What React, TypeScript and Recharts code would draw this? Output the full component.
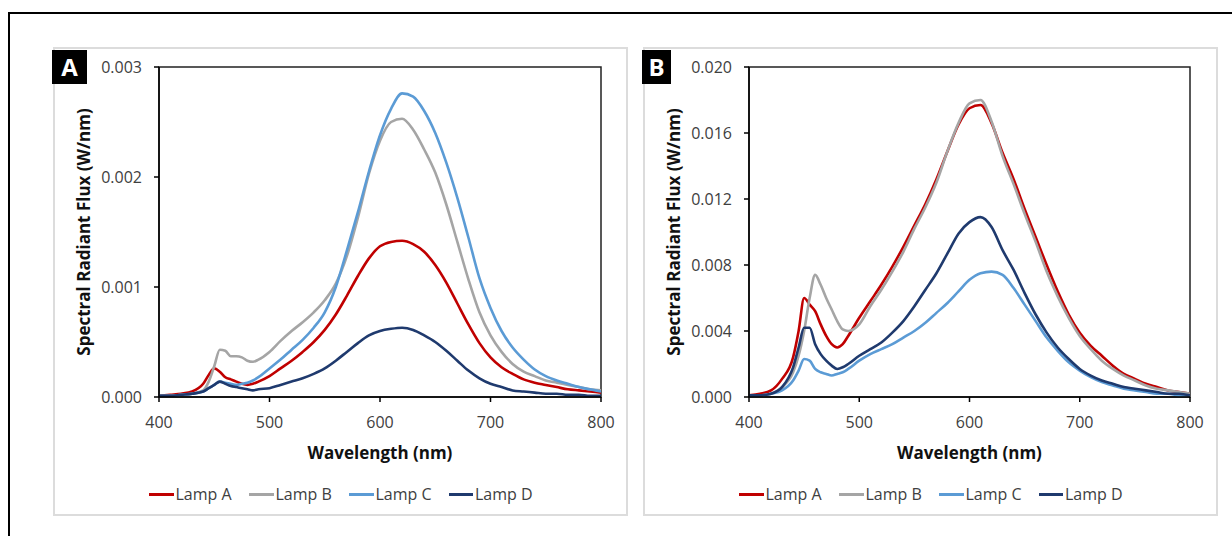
import React from 'react';
import { LineChart, Line, XAxis, YAxis, Legend, Label, ReferenceArea } from 'recharts';

// ---------- data ----------
const wavelengths = [
  400, 410, 420, 430, 440, 445, 450, 455, 460, 465, 470, 475, 480, 485, 490,
  500, 510, 520, 530, 540, 550, 560, 570, 580, 590, 600, 610, 620, 630, 640,
  650, 660, 670, 680, 690, 700, 710, 720, 730, 740, 750, 760, 770, 780, 790, 800,
];

// Panel A (W/nm)
const aLampA = [
  0.00001, 0.00002, 0.00003, 0.00005, 0.00012, 0.0002, 0.00026, 0.00023, 0.00018, 0.00016, 0.00014, 0.00012, 0.00011, 0.00012, 0.00014,
  0.00019, 0.00026, 0.00033, 0.00041, 0.0005, 0.00061, 0.00075, 0.00092, 0.0011, 0.00126, 0.00137, 0.00141, 0.00142, 0.00139, 0.00132,
  0.0012, 0.00104, 0.00085, 0.00066, 0.00049, 0.00036, 0.00027, 0.00021, 0.00016, 0.00013, 0.00011, 0.00009, 0.00007, 0.00006, 0.00005, 0.00004,
];
const aLampB = [
  0.00001, 0.00001, 0.00002, 0.00003, 0.00006, 0.00014, 0.00028, 0.00043, 0.00042, 0.00037, 0.00037, 0.00036, 0.00033, 0.00032, 0.00034,
  0.00041, 0.00051, 0.0006, 0.00068, 0.00077, 0.00088, 0.00103, 0.00128, 0.00163, 0.00203, 0.00233, 0.0025, 0.00253, 0.00243, 0.00225,
  0.00204, 0.00175, 0.00141, 0.00107, 0.00077, 0.00056, 0.00041, 0.0003, 0.00023, 0.00019, 0.00015, 0.00013, 0.00011, 0.00009, 0.00007, 0.00006,
];
const aLampC = [
  0.00001, 0.00001, 0.00002, 0.00003, 0.00005, 0.00008, 0.00011, 0.00014, 0.00013, 0.00012, 0.00011, 0.00012, 0.00013, 0.00015, 0.00018,
  0.00026, 0.00034, 0.00043, 0.00052, 0.00063, 0.00077, 0.001, 0.00133, 0.00168, 0.00205, 0.00238, 0.00262, 0.00276, 0.00273, 0.0026,
  0.0024, 0.00213, 0.00181, 0.00145, 0.00108, 0.00081, 0.0006, 0.00045, 0.00034, 0.00025, 0.00019, 0.00015, 0.00012, 0.00009, 0.00007, 0.00005,
];
const aLampD = [
  0.00001, 0.00001, 0.00002, 0.00003, 0.00005, 0.00008, 0.00011, 0.00014, 0.00012, 0.0001, 0.00009, 0.00008, 0.00007, 0.00006, 0.00007,
  0.00008, 0.00011, 0.00014, 0.00017, 0.00021, 0.00026, 0.00033, 0.00041, 0.00049, 0.00056, 0.0006, 0.00062, 0.00063, 0.00061, 0.00056,
  0.0005, 0.00042, 0.00033, 0.00024, 0.00017, 0.00012, 0.00009, 0.00006, 0.00005, 0.00004, 0.00003, 0.00003, 0.00002, 0.00002, 0.00001, 0.00001,
];

// Panel B (W/nm)
const bLampA = [
  0.0001, 0.0002, 0.0004, 0.0011, 0.0024, 0.004, 0.006, 0.0056, 0.0052, 0.0044, 0.0037, 0.0032, 0.003, 0.0032, 0.0037,
  0.0048, 0.0058, 0.0068, 0.0079, 0.0091, 0.0104, 0.0117, 0.0132, 0.0149, 0.0165, 0.0175, 0.0177, 0.0166, 0.0148, 0.0132,
  0.0114, 0.0097, 0.008, 0.0064, 0.005, 0.0039, 0.0031, 0.0025, 0.0019, 0.0014, 0.0011, 0.0008, 0.0006, 0.0004, 0.0003, 0.0002,
];
const bLampB = [
  0.0001, 0.0001, 0.0002, 0.0006, 0.0015, 0.0025, 0.004, 0.006, 0.0074, 0.0068, 0.006, 0.0053, 0.0046, 0.0041, 0.004,
  0.0044, 0.0055, 0.0065, 0.0076, 0.0088, 0.0102, 0.0115, 0.013, 0.0149, 0.0166, 0.0178, 0.018, 0.0167, 0.0146, 0.0129,
  0.0111, 0.0094, 0.0076, 0.0061, 0.0048, 0.0037, 0.0029, 0.0022, 0.0017, 0.0013, 0.001, 0.0007, 0.0005, 0.0004, 0.0003, 0.0002,
];
const bLampC = [
  0.0001, 0.0001, 0.0002, 0.0004, 0.001, 0.0016, 0.0023, 0.0022, 0.0017, 0.0015, 0.0014, 0.0013, 0.0014, 0.0015, 0.0017,
  0.0022, 0.0026, 0.0029, 0.0032, 0.0036, 0.004, 0.0045, 0.0051, 0.0057, 0.0064, 0.0071, 0.0075, 0.0076, 0.0074, 0.0066,
  0.0056, 0.0046, 0.0036, 0.0028, 0.0021, 0.0016, 0.0012, 0.0009, 0.0007, 0.0005, 0.0004, 0.0003, 0.0002, 0.0002, 0.0001, 0.0001,
];
const bLampD = [
  0.0001, 0.0001, 0.0002, 0.0006, 0.0018, 0.003, 0.0042, 0.0042, 0.0032, 0.0026, 0.0022, 0.0019, 0.0017, 0.0018, 0.002,
  0.0025, 0.0029, 0.0033, 0.0039, 0.0046, 0.0055, 0.0065, 0.0075, 0.0087, 0.0099, 0.0106, 0.0109, 0.0103, 0.0089, 0.0077,
  0.0063, 0.005, 0.0039, 0.003, 0.0023, 0.0017, 0.0013, 0.001, 0.0008, 0.0006, 0.0005, 0.0004, 0.0003, 0.0002, 0.0002, 0.0001,
];

const xTicks = [400, 500, 600, 700, 800];
const aYTicks = [0, 0.001, 0.002, 0.003];
const bYTicks = [0, 0.004, 0.008, 0.012, 0.016, 0.02];

const seriesNames = ['Lamp A', 'Lamp B', 'Lamp C', 'Lamp D'];
const seriesKeys = ['a', 'b', 'c', 'd'];
const seriesColors = ['#C00000', '#A5A5A5', '#5B9BD5', '#1F3A6E'];

const xTitle = 'Wavelength (nm)';
const yTitle = 'Spectral Radiant Flux (W/nm)';

const FONT = '"Open Sans", sans-serif';
const TEXT = '#404040';

function buildRows(s: number[][]) {
  return wavelengths.map((w, i) => ({ w, a: s[0][i], b: s[1][i], c: s[2][i], d: s[3][i] }));
}

const rowsA = buildRows([aLampA, aLampB, aLampC, aLampD]);
const rowsB = buildRows([bLampA, bLampB, bLampC, bLampD]);

const CH_W = 575;
const CH_H = 469;

const renderLegend = () => (
  <div
    style={{
      boxSizing: 'border-box',
      height: 52,
      paddingTop: 19,
      display: 'flex',
      justifyContent: 'center',
      alignItems: 'flex-start',
      fontFamily: FONT,
      fontSize: 16,
      color: TEXT,
      lineHeight: '22px',
    }}
  >
    {seriesNames.map((n, i) => (
      <div
        key={n}
        style={{ display: 'flex', alignItems: 'center', width: i < 3 ? 100 : 84, whiteSpace: 'nowrap' }}
      >
        <span style={{ display: 'inline-block', width: 25, height: 3, background: seriesColors[i], marginRight: 2 }} />
        <span>{n}</span>
      </div>
    ))}
  </div>
);

const XTitle = (props: any) => {
  const vb = props.viewBox || {};
  return (
    <text
      x={vb.x + vb.width / 2}
      y={vb.y + 55}
      textAnchor="middle"
      dominantBaseline="central"
      style={{ fontFamily: FONT, fontSize: 17, fontWeight: 700, fill: '#111' }}
    >
      {xTitle}
    </text>
  );
};

const YTitle = (props: any) => {
  const vb = props.viewBox || {};
  const x = vb.x + 30;
  const y = vb.y + vb.height / 2;
  return (
    <text
      x={x}
      y={y}
      transform={`rotate(-90, ${x}, ${y})`}
      textAnchor="middle"
      dominantBaseline="central"
      style={{ fontFamily: FONT, fontSize: 17, fontWeight: 700, fill: '#111' }}
    >
      {yTitle}
    </text>
  );
};

function Panel(props: { rows: any[]; yMax: number; yTicks: number[]; right: number }) {
  const { rows, yMax, yTicks, right } = props;
  return (
    <LineChart width={CH_W} height={CH_H} data={rows} margin={{ top: 20, right, left: 0, bottom: 0 }}>
      <XAxis
        dataKey="w"
        type="number"
        domain={[400, 800]}
        ticks={xTicks}
        allowDataOverflow
        height={67}
        stroke="#000"
        strokeWidth={1.5}
        tickSize={5}
        tickMargin={15}
        tick={{ fontSize: 16, fill: TEXT, fontFamily: FONT }}
      >
        <Label content={XTitle} />
      </XAxis>
      <YAxis
        type="number"
        domain={[0, yMax]}
        ticks={yTicks}
        allowDataOverflow
        width={106}
        stroke="#000"
        strokeWidth={1.5}
        tickSize={5}
        tickMargin={12}
        tickFormatter={(v: number) => v.toFixed(3)}
        tick={{ fontSize: 16, fill: TEXT, fontFamily: FONT }}
      >
        <Label content={YTitle} />
      </YAxis>
      <ReferenceArea x1={400} x2={800} y1={0} y2={yMax} fill="none" stroke="#222" strokeWidth={1.5} ifOverflow="visible" />
      {seriesKeys.map((k, i) => (
        <Line
          key={k}
          type="monotone"
          dataKey={k}
          name={seriesNames[i]}
          stroke={seriesColors[i]}
          strokeWidth={2.6}
          dot={false}
          activeDot={false}
          isAnimationActive={false}
        />
      ))}
      <Legend
        verticalAlign="bottom"
        content={renderLegend}
        wrapperStyle={{ left: 0, bottom: 0, width: CH_W, height: 52 }}
      />
    </LineChart>
  );
}

const boxStyle = (left: number, width: number): React.CSSProperties => ({
  position: 'absolute',
  left,
  top: 50,
  width,
  height: 34,
  background: '#000',
  color: '#fff',
  fontFamily: FONT,
  fontWeight: 700,
  fontSize: 24,
  lineHeight: '34px',
  textAlign: 'center',
  zIndex: 2,
});

export default function App() {
  return (
    <div
      style={{
        position: 'absolute',
        left: 0,
        top: 0,
        width: 1232,
        height: 536,
        overflow: 'hidden',
        background: '#fff',
      }}
    >
      <div
        style={{
          position: 'absolute',
          left: 8,
          top: 12,
          width: 1260,
          height: 560,
          border: '2px solid #000',
          boxSizing: 'border-box',
        }}
      />
      <div style={{ position: 'absolute', left: 53, top: 47, width: CH_W, height: CH_H, border: '2px solid #dcdcdc', boxSizing: 'border-box' }} />
      <div style={{ position: 'absolute', left: 643, top: 47, width: CH_W, height: CH_H, border: '2px solid #dcdcdc', boxSizing: 'border-box' }} />
      <div style={{ position: 'absolute', left: 53, top: 47 }}>
        <Panel rows={rowsA} yMax={0.003} yTicks={aYTicks} right={27} />
      </div>
      <div style={{ position: 'absolute', left: 643, top: 47 }}>
        <Panel rows={rowsB} yMax={0.02} yTicks={bYTicks} right={28} />
      </div>
      <div style={boxStyle(52, 35)}>A</div>
      <div style={boxStyle(642, 29)}>B</div>
    </div>
  );
}
